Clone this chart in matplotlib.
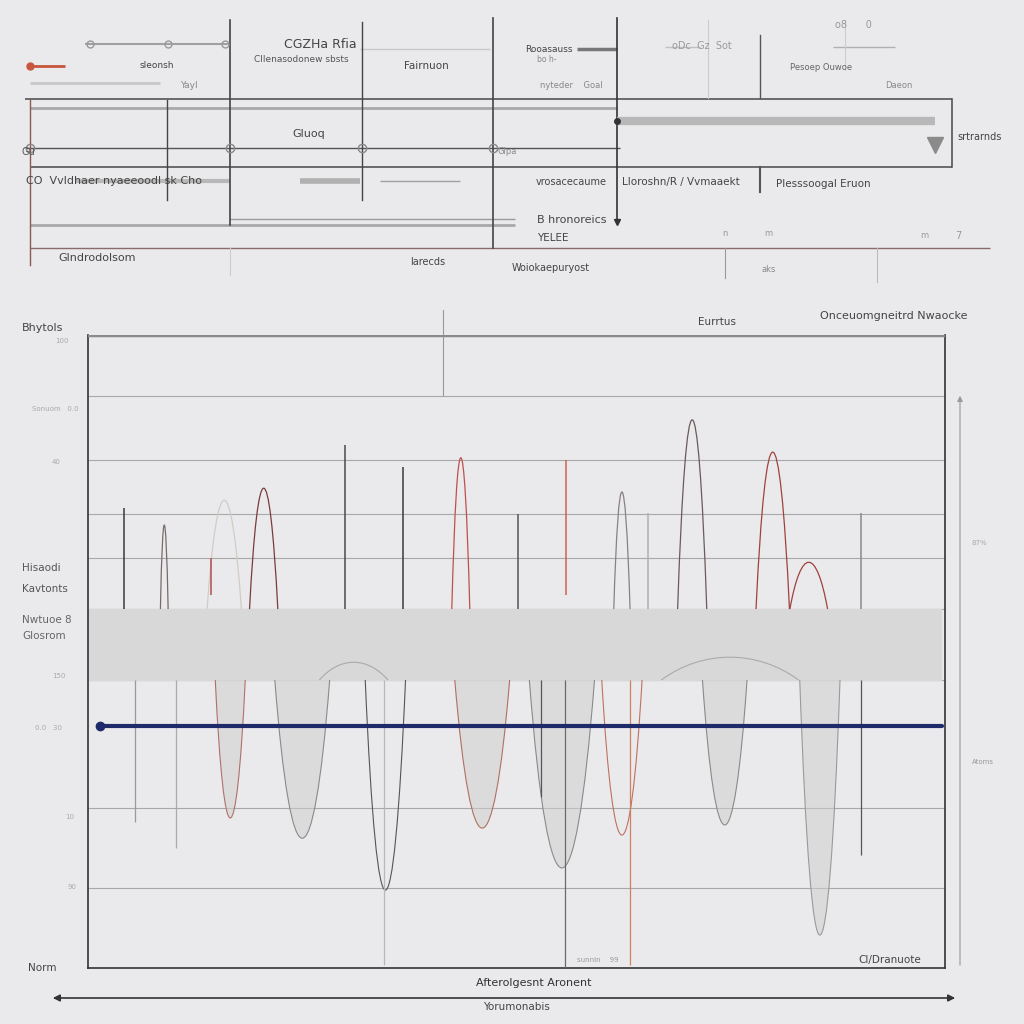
import matplotlib.pyplot as plt
from matplotlib.path import Path
from matplotlib.patches import PathPatch, FancyArrowPatch

# ---- lower chart data (x: 0-100 along the track, y: 0-100 level) ----
grid_levels = [90.4, 80.3, 71.7, 64.8, 56.7, 45.5, 25.3, 12.6]
band_low, band_high = 45.5, 56.7
navy_level = 38.2

# upward peaks standing on the band
up_x = [8.9, 15.9, 20.5, 43.5, 62.3, 70.5, 79.9, 84.1]
up_w = [0.9, 4.0, 3.3, 2.1, 1.9, 3.4, 3.9, 4.4]
up_top = [70.0, 73.9, 75.8, 80.6, 75.2, 86.6, 81.5, 64.1]
up_col = ['#7a6a6a', '#d3cbc4', '#7a3b3b', '#c0504d', '#8a8080', '#6a5a5a', '#a0413c', '#a0413c']

# straight spikes above the band
spike_x = [4.2, 30.0, 36.8, 50.2, 55.8, 90.2, 14.3, 65.3]
spike_lo = [56.7, 56.7, 56.7, 56.7, 59.0, 56.7, 59.0, 56.7]
spike_top = [72.7, 82.6, 79.1, 71.7, 80.3, 71.9, 64.8, 71.9]
spike_col = ['#3a3a3a', '#4a4a4a', '#3a3a3a', '#555555', '#d0604d', '#8a8a8a', '#b0504d', '#b0b0b0']

# downward dips hanging from the band
dn_x = [16.6, 25.0, 34.7, 46.0, 55.3, 62.3, 74.3, 85.4]
dn_w = [3.5, 6.4, 4.7, 6.4, 7.6, 4.7, 5.2, 4.7]
dn_bot = [23.7, 20.5, 12.3, 22.1, 15.8, 21.0, 22.6, 5.2]
dn_col = ['#b0706a', '#8a8a8a', '#555555', '#b07060', '#8a8a8a', '#c07060', '#8a8a8a', '#9a9a9a']
dn_fill = [True, True, False, True, True, False, True, True]

# straight drop lines below the band
drop_x = [5.5, 10.3, 63.2, 90.2, 55.7, 34.5, 52.9]
drop_bot = [23.1, 19.0, 0.5, 17.9, 0.0, 0.5, 27.0]
drop_col = ['#9a9a9a', '#aaaaaa', '#d08060', '#555555', '#6a6a6a', '#b8b8b8', '#555555']

# faint arcs rising out of the band
arc_x = [31.0, 74.9]
arc_w = [8.0, 16.0]
arc_top = [48.3, 49.1]

# ---- upper diagram data (page pixel units) ----
h_lines = [  # y, x0, x1, colour, width
    (44, 85, 230, '#a0a0a0', 1.5), (49, 577, 617, '#777777', 2.5), (47, 665, 700, '#c0c0c0', 1),
    (47, 833, 895, '#b0b0b0', 1), (66, 30, 65, '#c8553d', 2), (83, 30, 160, '#c8c8c8', 2),
    (99, 25, 952, '#555555', 1.2), (108, 30, 617, '#a8a8a8', 2), (148, 25, 620, '#555555', 1),
    (167, 30, 952, '#555555', 1.2), (181, 75, 230, '#b8b8b8', 3), (181, 300, 360, '#b0b0b0', 4),
    (181, 380, 460, '#a0a0a0', 1), (219, 230, 515, '#9a9a9a', 1), (225, 30, 515, '#a8a8a8', 2),
    (248, 30, 990, '#8a6a6a', 1), (49, 360, 490, '#c8c8c8', 1)]
v_lines = [  # x, y0, y1, colour, width
    (30, 100, 265, '#8b5a50', 1), (167, 100, 200, '#444444', 1), (230, 20, 225, '#444444', 1.2),
    (362, 22, 200, '#444444', 1), (493, 18, 248, '#444444', 1.2), (617, 18, 222, '#333333', 1.2),
    (760, 35, 98, '#555555', 1), (760, 167, 192, '#555555', 1.5), (952, 99, 167, '#555555', 1.2),
    (725, 248, 278, '#999999', 0.8), (877, 248, 282, '#bbbbbb', 0.8), (708, 20, 98, '#cccccc', 0.8),
    (845, 20, 70, '#cccccc', 0.8), (230, 248, 275, '#cccccc', 0.8), (443, 310, 396, '#999999', 0.8)]
top_labels = [  # text, x, y, size, colour
    ('CGZHa Rfia', 284, 44, 9, '#444444'), ('Cllenasodonew sbsts', 254, 60, 6.5, '#555555'),
    ('Fairnuon', 404, 66, 7.5, '#444444'), ('sleonsh', 140, 66, 6.5, '#444444'),
    ('Yayl', 180, 86, 6.5, '#888888'), ('Rooasauss', 525, 49, 6.5, '#444444'),
    ('bo h-', 537, 60, 5.5, '#888888'), ('nyteder    Goal', 540, 85, 6, '#888888'),
    ('oDc  Gz  Sot', 672, 46, 7, '#999999'), ('Pesoep Ouwoe', 790, 68, 6, '#666666'),
    ('Daeon', 885, 85, 6, '#888888'), ('o8      0', 835, 25, 7, '#999999'),
    ('Gluoq', 292, 134, 8, '#444444'), ('Gu', 22, 152, 7, '#555555'), ('Glpa', 498, 152, 6, '#888888'),
    ('CO  Vvldhaer nyaeeoodl sk Cho', 26, 181, 8, '#444444'), ('vrosacecaume', 536, 182, 7, '#444444'),
    ('Lloroshn/R / Vvmaaekt', 622, 182, 7.5, '#444444'), ('Plesssoogal Eruon', 776, 184, 7.5, '#444444'),
    ('srtrarnds', 957, 137, 7, '#444444'), ('B hronoreics', 537, 220, 8, '#444444'),
    ('YELEE', 537, 238, 7.5, '#444444'), ('Glndrodolsom', 58, 258, 8, '#444444'),
    ('larecds', 410, 262, 7, '#444444'), ('Woiokaepuryost', 512, 268, 7, '#444444'),
    ('n', 722, 233, 6, '#999999'), ('m', 764, 233, 6, '#999999'), ('m', 920, 236, 6, '#999999'),
    ('7', 955, 236, 7, '#999999'), ('aks', 762, 270, 6, '#888888')]
chart_labels = [
    ('Bhytols', 22, 328, 8, '#444444'), ('100', 55, 341, 5, '#aaaaaa'),
    ('Sonuom   0.0', 32, 409, 5, '#aaaaaa'), ('40', 52, 462, 5, '#aaaaaa'),
    ('Hisaodi', 22, 568, 7.5, '#555555'), ('Kavtonts', 22, 589, 7.5, '#555555'),
    ('Nwtuoe 8', 22, 620, 7.5, '#666666'), ('Glosrom', 22, 636, 7.5, '#666666'),
    ('150', 52, 676, 5, '#aaaaaa'), ('0.0   30', 35, 728, 5, '#aaaaaa'),
    ('10', 65, 817, 5, '#aaaaaa'), ('90', 67, 887, 5, '#aaaaaa'),
    ('Norm', 28, 968, 7.5, '#444444'), ('Eurrtus', 698, 322, 7.5, '#444444'),
    ('Onceuomgneitrd Nwaocke', 820, 316, 8, '#444444'), ('87%', 972, 543, 5, '#aaaaaa'),
    ('Atoms', 972, 762, 5, '#999999'), ('Cl/Dranuote', 858, 960, 7.5, '#444444'),
    ('sunnin    99', 577, 960, 5, '#999999'), ('Afterolgesnt Aronent', 476, 983, 8, '#333333'),
    ('Yorumonabis', 483, 1007, 7.5, '#444444')]


def arch(ax, c, w, base, tip, color, lw=0.9, fill=False):
    # narrow cubic bezier hump whose apex reaches tip
    k = base + (tip - base) * 4.0 / 3.0
    verts = [(c - w / 2, base), (c - w / 5, k), (c + w / 5, k), (c + w / 2, base)]
    codes = [Path.MOVETO, Path.CURVE4, Path.CURVE4, Path.CURVE4]
    p = Path(verts, codes)
    if fill:
        ax.add_patch(PathPatch(p, facecolor='#cfcfcf', edgecolor='none', alpha=0.55, zorder=2,
                               clip_on=False))
    ax.add_patch(PathPatch(p, facecolor='none', edgecolor=color, lw=lw, zorder=3, clip_on=False))


bg = '#eaeaec'
fig = plt.figure(figsize=(10.24, 10.24), dpi=100, facecolor=bg)

# page overlay for the diagram and loose labels
page = fig.add_axes([0, 0, 1, 1], zorder=1)
page.set_xlim(0, 1024)
page.set_ylim(1024, 0)
page.axis('off')
page.patch.set_alpha(0)

for y, x0, x1, c, lw in h_lines:
    page.plot([x0, x1], [y, y], color=c, lw=lw, solid_capstyle='butt')
for x, y0, y1, c, lw in v_lines:
    page.plot([x, x], [y0, y1], color=c, lw=lw)
page.plot([617, 935], [121, 121], color='#b8b8b8', lw=6, solid_capstyle='butt')
page.plot([935], [145], marker='v', ms=11, color='#8a8a8a')
page.plot([617], [222], marker='v', ms=4, color='#333333')
page.plot([30], [66], marker='o', ms=5, color='#c8553d')
for xm in [90, 168, 225]:
    page.plot([xm], [44], marker='o', ms=5, mfc='none', mec='#999999')
for xm in [30, 230, 362, 493]:
    page.plot([xm], [148], marker='o', ms=6, mfc='none', mec='#888888')
page.plot([617], [121], marker='o', ms=4, color='#333333')
for t, x, y, s, c in top_labels + chart_labels:
    page.text(x, y, t, fontsize=s, color=c, va='center', ha='left', family='DejaVu Sans')

# right side scale arrow and bottom span arrow
page.add_patch(FancyArrowPatch((960, 968), (960, 393), arrowstyle='-|>', mutation_scale=8,
                               color='#999999', lw=0.8))
page.add_patch(FancyArrowPatch((50, 998), (958, 998), arrowstyle='<|-|>', mutation_scale=10,
                               color='#333333', lw=1.2))

# main chart
ax = fig.add_axes([88 / 1024, 56 / 1024, 857 / 1024, 633 / 1024], zorder=2)
ax.set_xlim(0, 100)
ax.set_ylim(0, 100)
ax.patch.set_alpha(0)
ax.set_xticks([])
ax.set_yticks([])
for s in ['left', 'bottom', 'right']:
    ax.spines[s].set_color('#333333')
    ax.spines[s].set_linewidth(1.2)
ax.spines['top'].set_visible(False)

for lv in grid_levels:
    ax.axhline(lv, color='#a8a8a8', lw=0.8, zorder=1)
ax.axhline(100, color='#8a8a8a', lw=2.5, zorder=4)
ax.axhspan(band_low, band_high, xmin=0, xmax=0.995, color='#d8d8d8', zorder=1.5)

for c, w, t, col in zip(up_x, up_w, up_top, up_col):
    arch(ax, c, w, band_high, t, col)
for c, w, b, col, f in zip(dn_x, dn_w, dn_bot, dn_col, dn_fill):
    arch(ax, c, w, band_low, b, col, lw=0.8, fill=f)
for c, w, t in zip(arc_x, arc_w, arc_top):
    arch(ax, c, w, band_low, t, '#aaaaaa', lw=0.8)
for x, lo, t, col in zip(spike_x, spike_lo, spike_top, spike_col):
    ax.vlines(x, lo, t, color=col, lw=1.1, zorder=3)
for x, b, col in zip(drop_x, drop_bot, drop_col):
    ax.vlines(x, b, band_low, color=col, lw=0.9, zorder=3)

ax.plot([1.4, 99.6], [navy_level, navy_level], color='#1f2a6b', lw=3, zorder=5,
        solid_capstyle='round')
ax.plot([1.4], [navy_level], marker='o', ms=6, color='#1f2a6b', zorder=5)

fig.savefig('out.png', dpi=100, facecolor=bg)
